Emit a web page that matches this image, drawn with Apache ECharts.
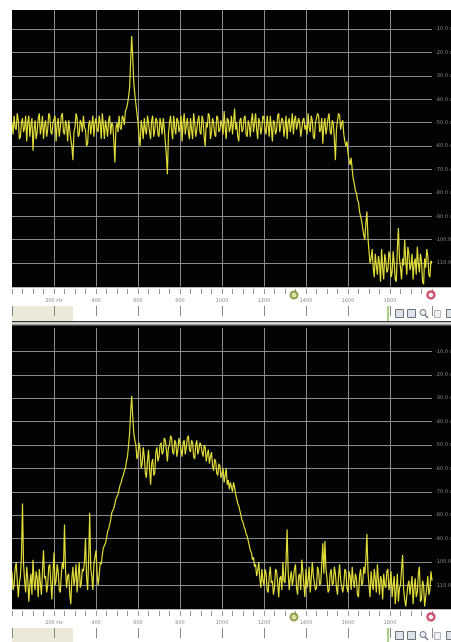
<!DOCTYPE html>
<html>
<head>
<meta charset="utf-8">
<script src="https://cdn.jsdelivr.net/npm/echarts@6/dist/echarts.min.js"></script>
<style>
html, body { margin: 0; padding: 0; background: #fff; }
#chart { width: 451px; height: 642px; }
</style>
</head>
<body>
<div id="chart"></div>
<script>
// spectrum levels in dB, one sample every freqStep Hz from 0 to 2000
const freqStep = 5;
const topLevels = [
  -50, -55, -47, -52, -53, -46, -49, -57, -56, -50, -48, -54, -52, -47, -58, -50, -47, -56, -51, -48,
  -62, -53, -49, -57, -54, -48, -46, -55, -52, -47, -57, -51, -49, -56, -53, -46, -47, -54, -55, -50,
  -50, -47, -58, -51, -48, -56, -52, -47, -46, -54, -55, -49, -51, -58, -49, -53, -57, -60, -66, -54,
  -52, -46, -48, -56, -55, -49, -50, -54, -47, -52, -53, -60, -59, -51, -49, -55, -51, -47, -56, -50,
  -48, -53, -54, -47, -50, -57, -46, -51, -57, -49, -52, -56, -49, -47, -55, -50, -51, -58, -67, -52,
  -50, -54, -47, -52, -53, -47, -48, -51, -45, -44, -42, -39, -35, -24, -13, -22, -33, -38, -42, -46,
  -50, -56, -60, -49, -52, -57, -48, -53, -55, -47, -50, -54, -57, -49, -47, -56, -53, -48, -49, -55,
  -56, -48, -51, -55, -48, -52, -58, -64, -72, -55, -50, -47, -53, -57, -47, -52, -55, -48, -49, -54,
  -52, -47, -58, -50, -46, -55, -51, -48, -54, -57, -48, -53, -57, -46, -50, -56, -53, -49, -47, -54,
  -55, -47, -49, -56, -60, -50, -52, -46, -47, -57, -54, -48, -50, -55, -56, -47, -48, -54, -53, -49,
  -51, -55, -45, -52, -57, -48, -49, -54, -52, -47, -55, -50, -44, -53, -50, -56, -58, -49, -48, -54,
  -53, -48, -47, -55, -56, -49, -51, -56, -49, -46, -54, -50, -46, -53, -57, -48, -50, -55, -52, -47,
  -48, -53, -55, -47, -51, -56, -47, -52, -58, -49, -50, -55, -53, -47, -46, -54, -54, -48, -49, -56,
  -52, -47, -57, -50, -48, -54, -51, -46, -55, -49, -47, -53, -53, -48, -50, -56, -56, -49, -48, -53,
  -51, -55, -46, -52, -54, -47, -49, -56, -57, -50, -50, -46, -47, -54, -53, -48, -59, -51, -48, -55,
  -52, -48, -46, -54, -55, -49, -50, -57, -66, -53, -49, -46, -47, -53, -50, -49, -55, -58, -60, -58,
  -63, -66, -68, -65, -70, -74, -76, -79, -80, -83, -84, -88, -90, -92, -95, -98, -100, -93, -88, -99,
  -105, -110, -108, -104, -112, -116, -106, -111, -115, -107, -110, -118, -104, -112, -117, -106, -109, -114, -113, -105,
  -107, -116, -114, -105, -110, -117, -118, -104, -95, -108, -112, -117, -108, -111, -100, -109, -115, -103, -106, -113,
  -111, -106, -117, -110, -108, -115, -103, -110, -114, -106, -109, -118, -119, -108, -112, -104, -107, -115, -116, -109,
  -110
];
const bottomLevels = [
  -104, -112, -110, -103, -100, -108, -115, -109, -106, -98, -75, -101, -108, -113, -102, -107, -117, -110, -105, -114,
  -99, -108, -112, -104, -107, -115, -103, -109, -114, -104, -95, -107, -106, -113, -110, -102, -101, -109, -116, -105,
  -96, -110, -108, -101, -104, -112, -113, -105, -100, -103, -84, -104, -111, -106, -105, -114, -118, -107, -102, -110,
  -107, -101, -113, -106, -100, -111, -109, -103, -104, -100, -90, -106, -112, -99, -79, -103, -106, -112, -101, -98,
  -95, -104, -110, -106, -100, -101, -97, -94, -93, -92, -90, -87, -86, -84, -82, -79, -78, -77, -75, -73,
  -72, -71, -69, -67, -66, -64, -63, -61, -60, -57, -55, -50, -45, -36, -29, -38, -45, -48, -50, -56,
  -54, -49, -52, -60, -58, -51, -55, -62, -64, -57, -52, -60, -67, -58, -56, -63, -62, -53, -51, -57,
  -55, -50, -49, -54, -53, -47, -48, -52, -57, -51, -50, -46, -47, -53, -54, -48, -49, -55, -52, -47,
  -47, -52, -55, -49, -48, -54, -51, -47, -46, -52, -53, -48, -49, -55, -56, -50, -48, -54, -52, -49,
  -50, -53, -55, -50, -51, -57, -54, -52, -58, -55, -53, -59, -61, -56, -57, -62, -63, -58, -59, -64,
  -62, -60, -66, -63, -60, -67, -65, -69, -66, -68, -70, -66, -68, -71, -73, -75, -76, -78, -80, -82,
  -83, -85, -86, -88, -89, -91, -93, -95, -96, -99, -98, -102, -101, -106, -104, -100, -107, -111, -103, -108,
  -110, -103, -105, -112, -113, -106, -102, -109, -108, -114, -111, -103, -104, -109, -115, -107, -106, -112, -100, -108,
  -109, -100, -86, -104, -112, -107, -104, -110, -107, -103, -101, -111, -114, -106, -105, -112, -99, -104, -110, -115,
  -103, -111, -108, -102, -113, -107, -100, -106, -106, -112, -111, -102, -104, -110, -109, -101, -92, -105, -91, -103,
  -107, -113, -112, -105, -103, -110, -109, -102, -105, -111, -114, -106, -101, -108, -108, -113, -110, -103, -104, -111,
  -113, -104, -106, -112, -102, -108, -111, -105, -107, -114, -115, -106, -103, -110, -109, -102, -105, -99, -88, -104,
  -110, -115, -104, -109, -112, -103, -107, -113, -101, -108, -114, -106, -108, -116, -105, -110, -111, -104, -103, -112,
  -109, -104, -115, -110, -106, -118, -112, -105, -117, -111, -110, -103, -97, -112, -116, -119, -119, -110, -108, -114,
  -114, -106, -118, -111, -107, -115, -113, -105, -102, -117, -116, -108, -110, -119, -119, -111, -106, -114, -112, -104,
  -108
];
const rulerFreqs = [200, 400, 600, 800, 1000, 1200, 1400, 1600, 1800];
const rulerLabels = ['200 Hz', '400', '600', '800', '1000', '1200', '1400', '1600', '1800'];
const markerFreqs = [1343, 1995];

const chart = echarts.init(document.getElementById('chart'));

const FONT = 'DejaVu Sans';
const PLOT_L = 12, PLOT_W = 420;
const TOP_Y = 5.7, BOT_Y = 328, PLOT_H = 280.8;
const RULER_H = 19;

function plotX(grid) {
  return {
    type: 'value', gridIndex: grid, min: 0, max: 2000, interval: 200,
    axisLine: { show: false }, axisTick: { show: false }, axisLabel: { show: false },
    splitLine: { show: true, showMinLine: false, showMaxLine: false,
      lineStyle: { color: '#8a8a8a', width: 1 } }
  };
}
function plotY(grid) {
  return {
    type: 'value', gridIndex: grid, min: -120, max: 0, interval: 10, position: 'right',
    axisLine: { show: false }, axisTick: { show: false },
    axisLabel: { margin: 3, fontSize: 5, color: '#8c8c8c', fontFamily: FONT,
      showMinLabel: false, showMaxLabel: false,
      formatter: v => v.toFixed(1) + ' dB' },
    splitLine: { show: true, showMinLine: false, showMaxLine: false,
      lineStyle: { color: '#8a8a8a', width: 1 } }
  };
}
function rulerMajor(grid) {
  return {
    type: 'value', gridIndex: grid, min: 0, max: 2000, interval: 200, position: 'top',
    axisLine: { show: false },
    axisTick: { show: true, inside: true, length: 10, lineStyle: { color: '#888', width: 1 } },
    axisLabel: { inside: true, margin: 11, fontSize: 5, color: '#8a8a8a', fontFamily: FONT,
      formatter: v => { const k = rulerFreqs.indexOf(v); return k < 0 ? '' : rulerLabels[k]; } },
    splitLine: { show: false }
  };
}
function rulerMinor(grid) {
  return {
    type: 'value', gridIndex: grid, min: 0, max: 2000, interval: 50, position: 'top', offset: -2,
    axisLine: { show: false },
    axisTick: { show: true, inside: true, length: 5, lineStyle: { color: '#999', width: 1 } },
    axisLabel: { show: false }, splitLine: { show: false }
  };
}
function rulerY(grid) {
  return { type: 'value', gridIndex: grid, min: 0, max: 1, show: false };
}

const markerStyles = [
  { color: '#d8d890', borderColor: '#7d8a2c', borderWidth: 2 },
  { color: '#ffffff', borderColor: '#c03050', borderWidth: 2.5 }
];
function markerData() {
  return markerFreqs.map((f, i) => ({ value: [f, 0.58], itemStyle: markerStyles[i] }));
}

function traceSeries(levels, axis) {
  return {
    type: 'line', xAxisIndex: axis, yAxisIndex: axis,
    data: levels.map((v, i) => [i * freqStep, v]),
    showSymbol: false, symbol: 'none',
    lineStyle: { color: '#e0dc3a', width: 1.2 },
    z: 3
  };
}

function toolbar(y) {
  return [
    { type: 'rect', shape: { x: 12, y: y, width: 61, height: 15 }, style: { fill: '#ece9d9' }, z: -1 },
    { type: 'rect', shape: { x: 387, y: y, width: 2, height: 15 }, style: { fill: '#a9cf84' }, z: -1 },
    { type: 'rect', shape: { x: 395.5, y: y + 3.5, width: 8, height: 8 }, style: { fill: '#dde3e8', stroke: '#6b7580', lineWidth: 1 }, z: -1 },
    { type: 'rect', shape: { x: 407.5, y: y + 3.5, width: 8, height: 8 }, style: { fill: '#dde3e8', stroke: '#6b7580', lineWidth: 1 }, z: -1 },
    { type: 'circle', shape: { cx: 423, cy: y + 6.5, r: 3 }, style: { fill: '#e8eef4', stroke: '#6b7580', lineWidth: 1 }, z: -1 },
    { type: 'line', shape: { x1: 425, y1: y + 9, x2: 428, y2: y + 12 }, style: { stroke: '#6b7580', lineWidth: 1.5 }, z: -1 },
    { type: 'rect', shape: { x: 434.5, y: y + 4.5, width: 6, height: 7 }, style: { fill: '#eef0f2', stroke: '#b0b6bc', lineWidth: 1 }, z: -1 },
    { type: 'rect', shape: { x: 446.5, y: y + 3.5, width: 6, height: 8 }, style: { fill: '#dde3e8', stroke: '#6b7580', lineWidth: 1 }, z: -1 }
  ];
}

const gridBase = { left: PLOT_L, width: PLOT_W, outerBoundsMode: 'none', containLabel: false };

const option = {
  backgroundColor: '#ffffff',
  animation: false,
  textStyle: { fontFamily: FONT },
  grid: [
    Object.assign({}, gridBase, { top: TOP_Y, height: PLOT_H }),
    Object.assign({}, gridBase, { top: BOT_Y, height: PLOT_H }),
    Object.assign({}, gridBase, { top: 287, height: RULER_H }),
    Object.assign({}, gridBase, { top: 609, height: RULER_H })
  ],
  xAxis: [plotX(0), plotX(1), rulerMajor(2), rulerMinor(2), rulerMajor(3), rulerMinor(3)],
  yAxis: [plotY(0), plotY(1), rulerY(2), rulerY(3)],
  graphic: [
    { type: 'rect', shape: { x: 12, y: 10, width: 439, height: 277 }, style: { fill: '#030303' }, z: -5 },
    { type: 'rect', shape: { x: 12, y: 326, width: 439, height: 283 }, style: { fill: '#030303' }, z: -5 },
    { type: 'rect', shape: { x: 12, y: 321, width: 439, height: 1.5 }, style: { fill: '#3a3a3a' }, z: -5 },
    { type: 'rect', shape: { x: 12, y: 322.5, width: 439, height: 2 }, style: { fill: '#dcdcdc' }, z: -5 },
    { type: 'rect', shape: { x: 12, y: 324.5, width: 439, height: 1.5 }, style: { fill: '#4a4a4a' }, z: -5 },
    { type: 'line', shape: { x1: 12, y1: 287.5, x2: 451, y2: 287.5 }, style: { stroke: '#b8b8b8', lineWidth: 1 }, z: -4 },
    { type: 'line', shape: { x1: 12, y1: 609.5, x2: 451, y2: 609.5 }, style: { stroke: '#b8b8b8', lineWidth: 1 }, z: -4 },
    ...toolbar(306),
    ...toolbar(628),
    { type: 'rect', shape: { x: 0, y: 0, width: 451, height: 10 }, style: { fill: '#ffffff' }, z: 50 }
  ],
  series: [
    traceSeries(topLevels, 0),
    traceSeries(bottomLevels, 1),
    { type: 'scatter', xAxisIndex: 2, yAxisIndex: 2, symbol: 'circle', symbolSize: 7, data: markerData(), z: 4 },
    { type: 'scatter', xAxisIndex: 4, yAxisIndex: 3, symbol: 'circle', symbolSize: 7, data: markerData(), z: 4 }
  ]
};

chart.setOption(option);
</script>
</body>
</html>
